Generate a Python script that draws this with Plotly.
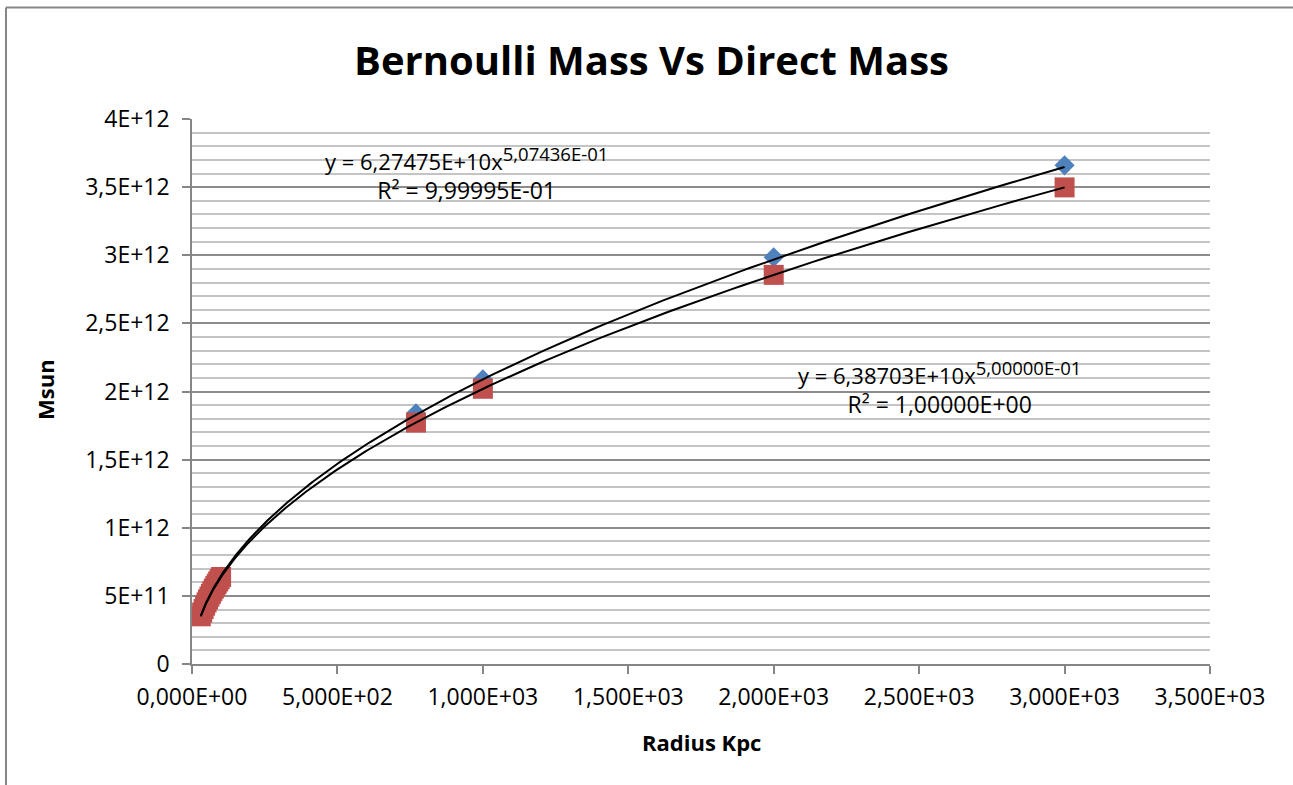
import plotly.graph_objects as go
import numpy as np

# ---------------- data ----------------
radius_kpc = [30, 35, 40, 45, 50, 55, 60, 65, 70, 75, 80, 85, 90, 95, 100,
              770, 1000, 2000, 3000]
bernoulli_mass = [3.525e11, 3.811e11, 4.079e11, 4.330e11, 4.568e11, 4.794e11,
                  5.010e11, 5.218e11, 5.418e11, 5.611e11, 5.798e11, 5.979e11,
                  6.155e11, 6.326e11, 6.420e11, 1.840e12, 2.089e12, 2.985e12,
                  3.660e12]
direct_mass = [3.498e11, 3.779e11, 4.039e11, 4.285e11, 4.516e11, 4.737e11,
               4.947e11, 5.149e11, 5.344e11, 5.531e11, 5.713e11, 5.889e11,
               6.059e11, 6.225e11, 6.387e11, 1.772e12, 2.020e12, 2.856e12,
               3.498e12]

# power-law trendline coefficients shown on the chart
bern_coef, bern_exp = 6.27475e10, 5.07436e-01
direct_coef, direct_exp = 6.38703e10, 5.00000e-01

y_tickvals = [0, 5e11, 1e12, 1.5e12, 2e12, 2.5e12, 3e12, 3.5e12, 4e12]
y_ticktext = ["0", "5E+11", "1E+12", "1,5E+12", "2E+12", "2,5E+12", "3E+12",
              "3,5E+12", "4E+12"]
x_tickvals = [0, 500, 1000, 1500, 2000, 2500, 3000, 3500]
x_ticktext = ["0,000E+00", "5,000E+02", "1,000E+03", "1,500E+03", "2,000E+03",
              "2,500E+03", "3,000E+03", "3,500E+03"]

title_text = "Bernoulli Mass Vs Direct Mass"
x_title = "Radius Kpc"
y_title = "Msun"
eq1_main, eq1_exp = "y = 6,27475E+10x", "5,07436E-01"
r1 = "R² = 9,99995E-01"
eq2_main, eq2_exp = "y = 6,38703E+10x", "5,00000E-01"
r2 = "R² = 1,00000E+00"

FONT = "Open Sans"
BLUE = "#4f81bd"
RED = "#c0504d"
AX = "#868686"

# ---------------- figure ----------------
W, H = 1293, 785
L, R, T, B = 192, 83, 119, 121
PW, PH = W - L - R, H - T - B


def px(xp):
    return (xp - L) / PW


def py(yp):
    return (H - B - yp) / PH


def eq_block(main, exp, r2line):
    return (main + "<sup><span style='font-size:18.5px'>" + exp +
            "</span></sup><br><span style='font-size:23px'>" + r2line +
            "</span>")


tx = np.geomspace(min(radius_kpc), max(radius_kpc), 300)

fig = go.Figure()
fig.add_trace(go.Scatter(x=radius_kpc, y=bernoulli_mass, mode="markers",
                         name="Bernoulli Mass",
                         marker=dict(symbol="diamond", size=15.5, color=BLUE,
                                     line=dict(width=0))))
fig.add_trace(go.Scatter(x=radius_kpc, y=direct_mass, mode="markers",
                         name="Direct Mass",
                         marker=dict(symbol="square", size=20, color=RED,
                                     line=dict(width=0))))
fig.add_trace(go.Scatter(x=tx, y=bern_coef * tx ** bern_exp, mode="lines",
                         line=dict(color="black", width=2), hoverinfo="skip"))
fig.add_trace(go.Scatter(x=tx, y=direct_coef * tx ** direct_exp, mode="lines",
                         line=dict(color="black", width=2), hoverinfo="skip"))

fig.update_layout(
    width=W, height=H, autosize=False,
    margin=dict(l=L, r=R, t=T, b=B, pad=0),
    paper_bgcolor="white", plot_bgcolor="white",
    showlegend=False,
    font=dict(family=FONT, size=23, color="black"),
)
fig.update_xaxes(range=[0, 3500], tickvals=x_tickvals, ticktext=x_ticktext,
                 showgrid=False, zeroline=False, showline=True, linecolor=AX,
                 linewidth=1.5, ticks="outside", ticklen=8, tickcolor=AX,
                 tickwidth=1.5, ticklabelstandoff=4,
                 tickfont=dict(family=FONT, size=23, color="black"))
fig.update_yaxes(range=[0, 4e12], tickvals=y_tickvals, ticktext=y_ticktext,
                 showgrid=True, gridcolor="#8c8c8c", gridwidth=1.5,
                 zeroline=False, showline=True, linecolor=AX, linewidth=1.5,
                 ticks="outside", ticklen=8, tickcolor=AX, tickwidth=1.5,
                 ticklabelstandoff=8,
                 tickfont=dict(family=FONT, size=23, color="black"),
                 minor=dict(dtick=1e11, tick0=0, showgrid=True,
                            gridcolor="#c4c4c4", gridwidth=1.5, ticks=""))

ann = [
    dict(text="<b>" + title_text + "</b>", x=px(651.5), y=py(60), size=40),
    dict(text="<b>" + x_title + "</b>", x=px(701), y=py(742), size=22),
    dict(text="<b>" + y_title + "</b>", x=px(45), y=py(390), size=22,
         textangle=-90),
    dict(text=eq_block(eq1_main, eq1_exp, r1), x=px(466), y=py(174), size=22),
    dict(text=eq_block(eq2_main, eq2_exp, r2), x=px(939), y=py(387), size=22),
]
for a in ann:
    s = a.pop("size")
    fig.add_annotation(xref="paper", yref="paper", showarrow=False,
                       xanchor="center", yanchor="middle", align="center",
                       font=dict(family=FONT, color="black", size=s), **a)

# outer chart-area border (left and top edges visible in the crop)
fig.add_shape(type="line", xref="paper", yref="paper",
              x0=px(6), x1=px(6), y0=py(800), y1=py(7.5),
              line=dict(color=AX, width=2))
fig.add_shape(type="line", xref="paper", yref="paper",
              x0=px(6), x1=px(1300), y0=py(7.5), y1=py(7.5),
              line=dict(color=AX, width=2))

fig.write_html("out.html", config={"displayModeBar": False},
               post_script="document.body.style.margin='0';"
                           "document.body.style.overflow='hidden';")
